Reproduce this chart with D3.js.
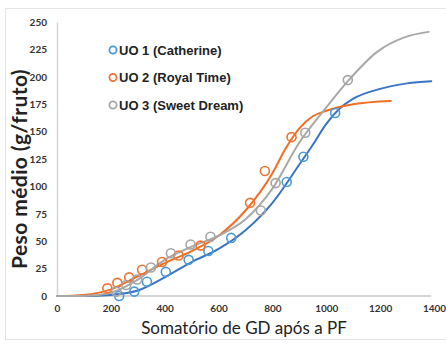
<!DOCTYPE html>
<html>
<head>
<meta charset="utf-8">
<script src="https://cdn.jsdelivr.net/npm/d3@7"></script>
<style>
  body { margin: 0; background: #fff; }
  svg { display: block; }
</style>
</head>
<body>
<div id="chart"></div>
<script>
const xTicks = [0, 200, 400, 600, 800, 1000, 1200, 1400];
const yTicks = [0, 25, 50, 75, 100, 125, 150, 175, 200, 225, 250];

// observed points (GD, g/fruto)
const uo1Points = [
  [231, 0], [287, 4], [334, 13], [404, 22], [489, 33], [562, 41],
  [647, 53], [853, 104], [915, 127], [1033, 167],
];
const uo2Points = [
  [187, 7], [224, 12], [268, 17], [316, 24], [390, 31], [452, 37],
  [533, 46], [717, 85], [772, 114], [871, 145],
];
const uo3Points = [
  [220, 4], [257, 10], [298, 15], [349, 26], [423, 39], [496, 47],
  [570, 54], [757, 78], [812, 103], [922, 149], [1080, 197],
];

// fitted curves
const uo1Curve = [
  [0, 0], [100, 0], [200, 1], [300, 5], [400, 17], [500, 31], [600, 43],
  [700, 60], [800, 85], [900, 120], [950, 138], [1000, 157], [1050, 171],
  [1100, 180], [1200, 189], [1300, 194], [1390, 196],
];
const uo2Curve = [
  [0, 0], [100, 1], [200, 6], [300, 18], [400, 30], [500, 41], [600, 55],
  [700, 78], [800, 112], [850, 135], [900, 153], [950, 164], [1000, 169],
  [1100, 175], [1240, 178],
];
const uo3Curve = [
  [0, 0], [100, 0], [200, 3], [300, 15], [400, 33], [500, 45], [600, 55],
  [700, 70], [800, 98], [900, 140], [1000, 172], [1080, 196], [1190, 223],
  [1290, 236], [1380, 241],
];

const seriesNames = ['UO 1 (Catherine)', 'UO 2 (Royal Time)', 'UO 3 (Sweet Dream)'];

const series = [
  { name: seriesNames[0], points: uo1Points, curve: uo1Curve, line: '#3a74c4', mark: '#4a9ad4' },
  { name: seriesNames[1], points: uo2Points, curve: uo2Curve, line: '#f26d21', mark: '#ee7433' },
  { name: seriesNames[2], points: uo3Points, curve: uo3Curve, line: '#a8a8a8', mark: '#a5a5a5' },
];

const width = 446;
const height = 344;
const margin = { top: 22, right: 8, bottom: 48, left: 57 };

const svg = d3.select('#chart').append('svg')
  .attr('width', width)
  .attr('height', height);

// faint frame of the original screenshot
svg.append('rect')
  .attr('x', 5.5).attr('y', 8.5)
  .attr('width', width - 5).attr('height', 331)
  .attr('fill', 'none')
  .attr('stroke', '#e4e4e4');

const x = d3.scaleLinear().domain([0, 1400]).range([margin.left, 434]);
const y = d3.scaleLinear().domain([0, 250]).range([296, margin.top]);

// axes
const xAxis = svg.append('g')
  .attr('transform', `translate(0, ${y(0)})`)
  .call(d3.axisBottom(x).tickValues(xTicks).tickFormat(d3.format('d')).tickSize(0).tickPadding(9));
xAxis.select('.domain')
  .attr('d', `M${x(0)},0H${x(1390)}`)
  .attr('stroke', '#c8c8c8')
  .attr('stroke-width', 1.5);

const yAxis = svg.append('g')
  .attr('transform', `translate(${x(0)}, 0)`)
  .call(d3.axisLeft(y).tickValues(yTicks).tickSize(0).tickPadding(10));
yAxis.select('.domain')
  .attr('stroke', '#d4d4d4')
  .attr('stroke-width', 1.5);

svg.selectAll('.tick text')
  .attr('font-family', 'Lato, sans-serif')
  .attr('font-weight', 'bold')
  .attr('font-size', 10)
  .attr('fill', '#333');

// fitted curves
const lineFn = d3.line()
  .x(d => x(d[0]))
  .y(d => y(d[1]))
  .curve(d3.curveMonotoneX);

svg.selectAll('path.fit')
  .data(series)
  .enter()
  .append('path')
  .attr('class', 'fit')
  .attr('fill', 'none')
  .attr('stroke', d => d.line)
  .attr('stroke-width', 2)
  .attr('stroke-linecap', 'round')
  .attr('d', d => lineFn(d.curve));

// observed points
series.forEach(s => {
  svg.append('g')
    .selectAll('circle')
    .data(s.points)
    .enter()
    .append('circle')
    .attr('cx', d => x(d[0]))
    .attr('cy', d => y(d[1]))
    .attr('r', 4.5)
    .attr('fill', 'none')
    .attr('stroke', s.mark)
    .attr('stroke-width', 1.6);
});

// legend
const legend = svg.append('g').attr('transform', 'translate(113, 50)');
const items = legend.selectAll('g')
  .data(series)
  .enter()
  .append('g')
  .attr('transform', (_, i) => `translate(0, ${i * 27.5})`);
items.append('circle')
  .attr('r', 3.6)
  .attr('fill', 'none')
  .attr('stroke', d => d.mark)
  .attr('stroke-width', 1.8);
items.append('text')
  .attr('x', 6)
  .attr('dy', '0.36em')
  .attr('font-family', '"Liberation Sans Narrow", "Arial Narrow", sans-serif')
  .attr('font-weight', 'bold')
  .attr('font-size', 13)
  .attr('fill', '#222')
  .text(d => d.name);

// axis titles
svg.append('text')
  .attr('transform', `translate(27, 169) rotate(-90)`)
  .attr('text-anchor', 'middle')
  .attr('font-family', 'Lato, sans-serif')
  .attr('font-weight', 'bold')
  .attr('font-size', 21)
  .attr('letter-spacing', 0.4)
  .attr('fill', '#222')
  .text('Peso médio (g/fruto)');

svg.append('text')
  .attr('x', 244)
  .attr('y', 334)
  .attr('text-anchor', 'middle')
  .attr('font-family', 'Lato, sans-serif')
  .attr('font-size', 17)
  .attr('fill', '#222')
  .text('Somatório de GD após a PF');
</script>
</body>
</html>
